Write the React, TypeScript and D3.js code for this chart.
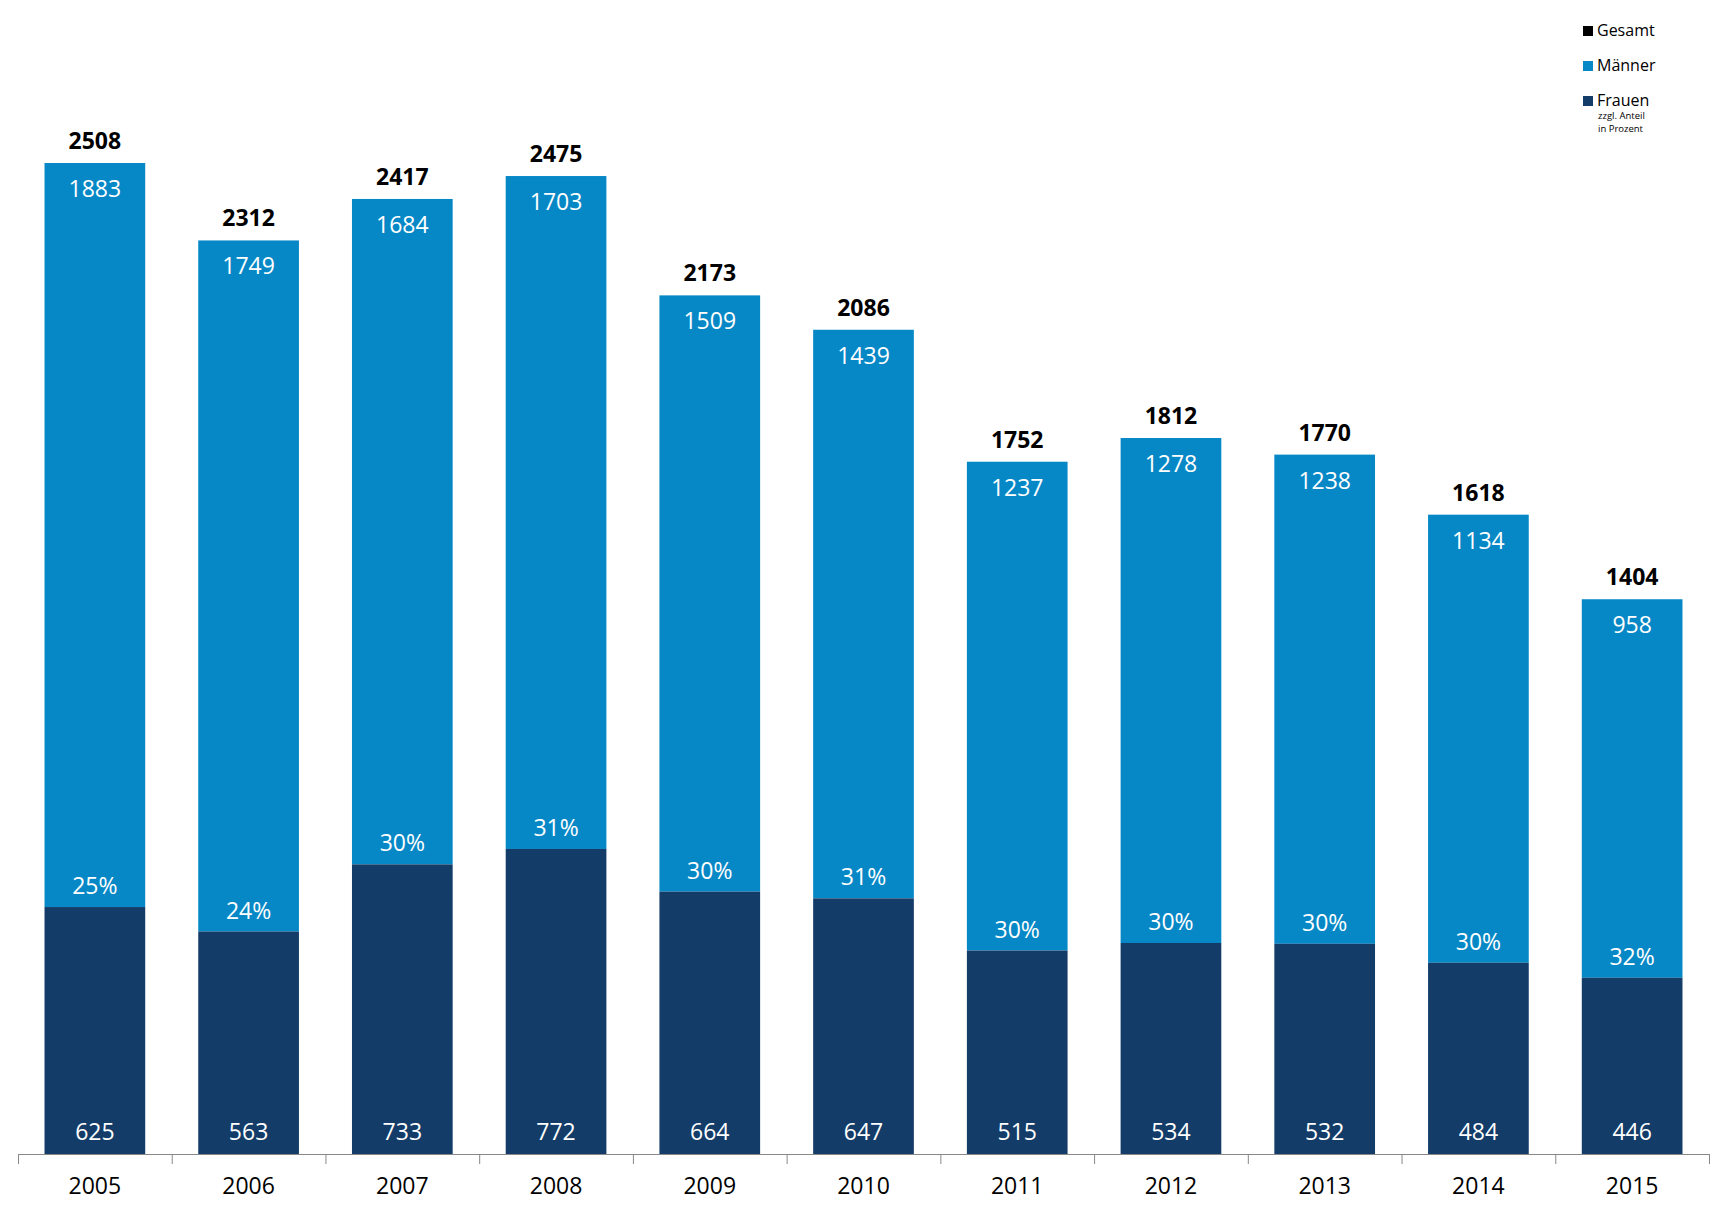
import React from "react";
import * as d3 from "d3";

const years = ["2005","2006","2007","2008","2009","2010","2011","2012","2013","2014","2015"];
const totals = [2508,2312,2417,2475,2173,2086,1752,1812,1770,1618,1404];
const maenner = [1883,1749,1684,1703,1509,1439,1237,1278,1238,1134,958];
const frauen = [625,563,733,772,664,647,515,534,532,484,446];
const anteil = ["25%","24%","30%","31%","30%","31%","30%","30%","30%","30%","32%"];

const W = 1727, H = 1208;
const left = 18, right = 1709, base = 1154, topY = 163;
const cM = "#0788c6", cF = "#133c68";
const font = "'Open Sans', 'Noto Sans', sans-serif";

export default function App() {
  const x = d3.scaleBand().domain(years).range([left, right]).paddingInner(0.345).paddingOuter(0.1725);
  const y = d3.scaleLinear().domain([0, 2508]).range([base, topY]);
  const step = x.step();
  return (
    <svg width={W} height={H} style={{ position: "absolute", left: 0, top: 0 }} fontFamily={font}>
      <rect width={W} height={H} fill="#fff" />
      {years.map((yr, i) => {
        const bx = x(yr)!, bw = x.bandwidth(), cx = bx + bw / 2;
        const tTop = y(totals[i]), fTop = y(frauen[i]);
        return (
          <g key={yr}>
            <rect x={bx} y={tTop} width={bw} height={fTop - tTop} fill={cM} />
            <rect x={bx} y={fTop} width={bw} height={base - fTop} fill={cF} />
            <text x={cx} y={tTop - 14} textAnchor="middle" fontSize={23} fontWeight="bold" fill="#000">{totals[i]}</text>
            <text x={cx} y={tTop + 34} textAnchor="middle" fontSize={23} fill="#fff">{maenner[i]}</text>
            <text x={cx} y={fTop - 13} textAnchor="middle" fontSize={23} fill="#fff">{anteil[i]}</text>
            <text x={cx} y={base - 14} textAnchor="middle" fontSize={23} fill="#fff">{frauen[i]}</text>
            <text x={cx} y={base + 40} textAnchor="middle" fontSize={23} fill="#000">{yr}</text>
          </g>
        );
      })}
      <line x1={left} x2={right} y1={base + 0.5} y2={base + 0.5} stroke="#888" />
      {d3.range(years.length + 1).map(k => (
        <line key={k} x1={left + k * step + 0.5} x2={left + k * step + 0.5} y1={base} y2={base + 10} stroke="#888" />
      ))}
      <g fontSize={16}>
        <rect x={1583} y={26} width={10} height={10} fill="#000" />
        <text x={1597} y={36}>Gesamt</text>
        <rect x={1583} y={61} width={10} height={10} fill={cM} />
        <text x={1597} y={71}>Männer</text>
        <rect x={1583} y={96} width={10} height={10} fill={cF} />
        <text x={1597} y={106}>Frauen</text>
        <text x={1598} y={119} fontSize={9.5}>zzgl. Anteil</text>
        <text x={1598} y={132} fontSize={9.5}>in Prozent</text>
      </g>
    </svg>
  );
}
